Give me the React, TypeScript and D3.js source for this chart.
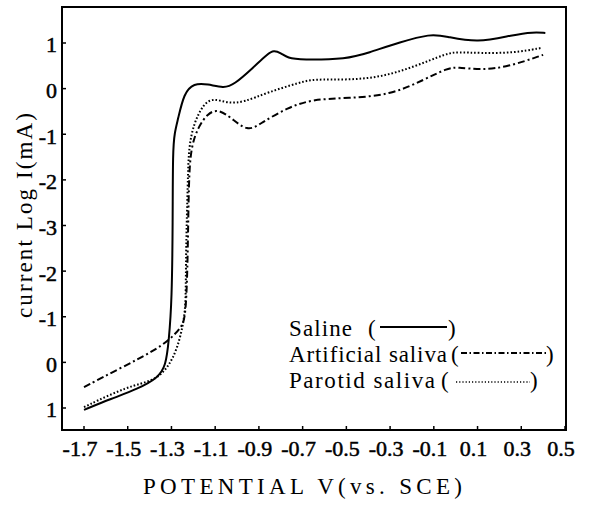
import React from "react";
import * as d3 from "d3";

// potential (V vs SCE) and axis position (tick units, 1 at top ... -7 at bottom)
const salineX = [-1.7, -1.577, -1.453, -1.362, -1.326, -1.312, -1.298, -1.294, -1.294, -1.285, -1.271, -1.243, -1.198, -1.134, -1.061, -1.015, -0.924, -0.86, -0.832, -0.8, -0.768, -0.709, -0.495, -0.403, -0.253, -0.116, -0.047, 0.099, 0.263, 0.355, 0.41];
const salineY = [-7.04, -6.8, -6.58, -6.34, -6.08, -5.53, -4.65, -2.89, -1.35, -0.95, -0.69, -0.1, 0.12, 0.1, 0.01, 0.08, 0.47, 0.76, 0.84, 0.78, 0.67, 0.63, 0.65, 0.78, 1.02, 1.2, 1.15, 1.0, 1.18, 1.24, 1.22];

const artificialX = [-1.7, -1.531, -1.38, -1.303, -1.257, -1.234, -1.225, -1.221, -1.211, -1.179, -1.134, -1.088, -1.029, -0.951, -0.892, -0.768, -0.65, -0.494, -0.298, -0.147, -0.038, 0.008, 0.113, 0.236, 0.4];
const artificialY = [-6.54, -6.12, -5.75, -5.48, -5.24, -5.04, -3.62, -2.01, -1.29, -0.85, -0.54, -0.45, -0.63, -0.95, -0.76, -0.41, -0.23, -0.21, -0.14, 0.19, 0.45, 0.47, 0.41, 0.47, 0.74];

const parotidX = [-1.7, -1.499, -1.38, -1.316, -1.271, -1.243, -1.234, -1.234, -1.225, -1.221, -1.198, -1.152, -1.106, -1.042, -0.969, -0.86, -0.709, -0.65, -0.494, -0.344, -0.193, -0.038, 0.008, 0.113, 0.263, 0.39];
const parotidY = [-6.98, -6.52, -6.41, -6.12, -5.68, -5.09, -4.65, -3.62, -2.01, -1.29, -0.76, -0.32, -0.21, -0.32, -0.3, -0.08, 0.14, 0.21, 0.19, 0.25, 0.47, 0.78, 0.8, 0.78, 0.78, 0.89];

const xTicks = [-1.7, -1.5, -1.3, -1.1, -0.9, -0.7, -0.5, -0.3, -0.1, 0.1, 0.3, 0.5];
const yTicks = [1, 0, -1, -2, -3, -4, -5, -6, -7];
const yTickLabels = ["1", "0", "-1", "-2", "-3", "-2", "-1", "0", "1"];

const FONT = "'Liberation Serif', 'Times New Roman', serif";

export default function App() {
  const frame = { left: 62, right: 566, top: 7, bottom: 430 };
  const x = d3.scaleLinear().domain([-1.7, 0.5]).range([84, 565]);
  const y = d3.scaleLinear().domain([1, -7]).range([43, 408]);

  const line = d3
    .line<[number, number]>()
    .x((d) => x(d[0]))
    .y((d) => y(d[1]))
    .curve(d3.curveBasis);

  const series = [
    { xs: salineX, ys: salineY, dash: undefined, w: 2 },
    { xs: artificialX, ys: artificialY, dash: "7 3 2 3", w: 2 },
    { xs: parotidX, ys: parotidY, dash: "1.6 2", w: 2 },
  ];

  return (
    <svg width={589} height={512} style={{ display: "block", position: "absolute", left: 0, top: 0, background: "#fff" }}>
      <rect x={frame.left} y={frame.top} width={frame.right - frame.left} height={frame.bottom - frame.top} fill="none" stroke="#000" strokeWidth={2} />

      {xTicks.map((t) => (
        <g key={t}>
          <line x1={x(t)} x2={x(t)} y1={frame.bottom} y2={frame.bottom - 4} stroke="#000" strokeWidth={1.5} />
          <text x={x(t) - 4} y={456} textAnchor="middle" fontFamily={FONT} fontSize={22} fill="#000" stroke="#000" strokeWidth={0.5}>
            {t.toFixed(1)}
          </text>
        </g>
      ))}

      {yTicks.map((t, i) => (
        <g key={t}>
          <line x1={frame.left} x2={frame.left + 4} y1={y(t)} y2={y(t)} stroke="#000" strokeWidth={1.5} />
          <text x={57} y={y(t) + 2} dy="0.34em" textAnchor="end" fontFamily={FONT} fontSize={22} fill="#000" stroke="#000" strokeWidth={0.5}>
            {yTickLabels[i]}
          </text>
        </g>
      ))}

      {series.map((s, i) => (
        <path
          key={i}
          d={line(s.xs.map((v, j) => [v, s.ys[j]] as [number, number])) || ""}
          fill="none"
          stroke="#000"
          strokeWidth={s.w}
          strokeDasharray={s.dash}
        />
      ))}

      {/* legend */}
      <g fontFamily={FONT} fontSize={23} fill="#000">
        <text x={289} y={336} textLength={63} lengthAdjust="spacing">Saline</text>
        <text x={368} y={336}>(</text>
        <line x1={380} x2={447} y1={327} y2={327} stroke="#000" strokeWidth={2} />
        <text x={448} y={336}>)</text>

        <text x={289} y={362} textLength={158} lengthAdjust="spacing">Artificial saliva</text>
        <text x={451} y={362}>(</text>
        <line x1={461} x2={546} y1={353} y2={353} stroke="#000" strokeWidth={2} strokeDasharray="6 2.5 1.5 2.5" />
        <text x={546} y={362}>)</text>

        <text x={289} y={388} textLength={146} lengthAdjust="spacing">Parotid saliva</text>
        <text x={441} y={388}>(</text>
        <line x1={456} x2={530} y1={382} y2={382} stroke="#000" strokeWidth={1.5} strokeDasharray="1.2 2" />
        <text x={530} y={388}>)</text>
      </g>

      <text x={143} y={494} textLength={319} lengthAdjust="spacing" fontFamily={FONT} fontSize={23} fill="#000">
        POTENTIAL V(vs. SCE)
      </text>
      <text
        transform="translate(32,318) rotate(-90)"
        x={0}
        y={0}
        textLength={205}
        lengthAdjust="spacing"
        fontFamily={FONT}
        fontSize={23}
        fill="#000"
      >
        current Log I(mA)
      </text>
    </svg>
  );
}
